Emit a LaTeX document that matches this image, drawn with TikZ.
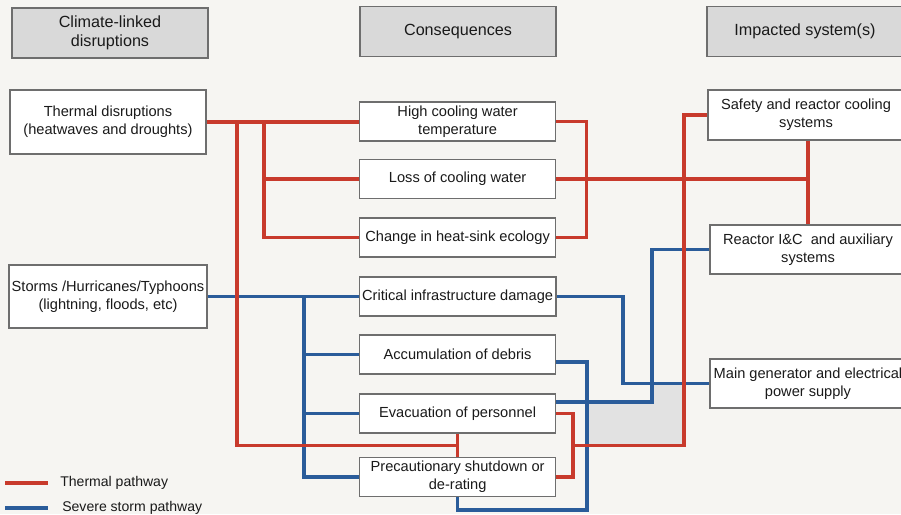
\documentclass[tikz,border=0pt]{standalone}
\usepackage{fontspec}
\setsansfont{Liberation Sans}
\usetikzlibrary{arrows.meta, positioning, calc, backgrounds}
\definecolor{paper}{HTML}{F6F5F2}
\definecolor{pred}{HTML}{C83A2C}
\definecolor{pblue}{HTML}{2A5C9A}
\definecolor{hgray}{HTML}{D9D9D9}
\definecolor{bgray}{HTML}{6E6E6E}
\definecolor{zone}{HTML}{E2E2E2}
\definecolor{ink}{HTML}{1A1A1A}
\tikzset{
  >=Latex,
  font=\sffamily,
  box/.style={
    draw=bgray, fill=white, line width=1pt, align=center, inner sep=2pt,
    text=ink, minimum width=4.9cm, minimum height=0.975cm,
    font=\fontsize{10.4}{12.8}\selectfont\sffamily
  },
  head/.style={box, fill=hgray, minimum height=1.25cm,
    font=\fontsize{11.5}{13.5}\selectfont\sffamily},
  redpath/.style={line width=2.4pt, draw=pred},
  bluepath/.style={line width=2.4pt, draw=pblue},
  lab/.style={font=\fontsize{10}{12}\selectfont\sffamily, text=ink, anchor=west, inner sep=0pt}
}

\begin{document}
\begin{tikzpicture}
  \useasboundingbox (0,0) rectangle (22.525,-12.85);
  \fill[paper] (0,0) rectangle (22.525,-12.85);
  \clip (0,0) rectangle (22.525,-12.85);
  % shaded zone
  \fill[zone] (14.675,-10.05) -- (16.3,-10.05) -- (16.3,-9.59) -- (17.1,-9.59)
    -- (17.1,-11.13) -- (14.675,-11.13) -- cycle;
  % column heads
  \node[head] (h1) at (2.75,-0.825) {Climate-linked\\disruptions};
  \node[head] (h2) at (11.45,-0.79) {Consequences};
  \node[head] (h3) at (20.125,-0.79) {Impacted system(s)};
  % disruptions
  \node[box,minimum height=1.6cm] (thermal) at (2.7,-3.05)
    {Thermal disruptions\\(heatwaves and droughts)};
  \node[box,minimum height=1.575cm] (storm) at (2.7,-7.41)
    {Storms /Hurricanes/Typhoons\\(lightning, floods, etc)};
  % consequences
  \node[box] (hot) at (11.44,-3.04) {High cooling water\\temperature};
  \node[box] (loss) at (11.44,-4.475) {Loss of cooling water};
  \node[box] (eco) at (11.44,-5.94) {Change in heat-sink ecology};
  \node[box] (infra) at (11.44,-7.41) {Critical infrastructure damage};
  \node[box] (debris) at (11.44,-8.86) {Accumulation of debris};
  \node[box] (evac) at (11.44,-10.34) {Evacuation of personnel};
  \node[box] (shut) at (11.44,-11.925) {Precautionary shutdown or\\de-rating};
  % impacted systems
  \node[box,minimum height=1.25cm] (safety) at (20.15,-2.875)
    {Safety and reactor cooling\\systems};
  \node[box,minimum height=1.225cm] (ic) at (20.2,-6.24)
    {Reactor I\&C~ and auxiliary\\systems};
  \node[box,minimum height=1.225cm] (gen) at (20.2,-9.59)
    {Main generator and electrical\\power supply};
  % storm pathway
  \coordinate (bx) at (7.6,0);
  \coordinate (bx2) at (15.575,0);
  \coordinate (bx3) at (16.3,0);
  \coordinate (dl) at (14.675,-12.75);
  \draw[bluepath] (storm.east) -- (infra.west);
  \draw[bluepath] (storm.east -| bx) |- (shut.west);
  \draw[bluepath] (debris.west -| bx) -- (debris.west);
  \draw[bluepath] (evac.west -| bx) -- (evac.west);
  \draw[bluepath] (infra.east) -| (bx2 |- gen.west) -- (gen.west);
  \draw[bluepath] ([yshift=2.9mm]evac.east) -| (bx3 |- ic.west) -- (ic.west);
  \draw[bluepath] ([yshift=-1.9mm]debris.east) -| (dl) -| (shut.south);
  % thermal pathway
  \coordinate (lx) at (5.925,0);
  \coordinate (lx2) at (6.6,0);
  \coordinate (rx) at (17.1,0);
  \coordinate (rj) at (14.325,-11.13);
  \coordinate (tstub) at ($(evac.south)!0.5!(shut.north)$);
  \draw[redpath] (thermal.east) -- (thermal.east -| hot.west);
  \draw[redpath] (thermal.east -| lx) |- (tstub);
  \draw[redpath] (evac.south) -- (shut.north);
  \draw[redpath] (thermal.east -| lx2) |- (eco.west);
  \draw[redpath] (loss.west -| lx2) -- (loss.west);
  \draw[redpath] (hot.east) -- ++(0.76,0) |- (eco.east);
  \draw[redpath] (loss.east) -- (loss.east -| ic.north);
  \draw[redpath] (safety.south -| ic.north) -- (ic.north);
  \draw[redpath] (evac.east) -| (rj) |- (shut.east);
  \draw[redpath] (rj) -| (rx |- safety.west) -- (safety.west);
  % legend
  \node[lab] (key1) at (1.5,-12.075) {Thermal pathway};
  \node[lab] (key2) at (1.55,-12.7) {Severe storm pathway};
  \coordinate (k1) at (0.125,-12.075);
  \coordinate (k2) at (0.125,-12.7);
  \draw[redpath] (k1) -- ([xshift=-0.3cm]key1.west);
  \draw[bluepath] (k2) -- ([xshift=-0.35cm]key2.west);
\end{tikzpicture}
\end{document}
